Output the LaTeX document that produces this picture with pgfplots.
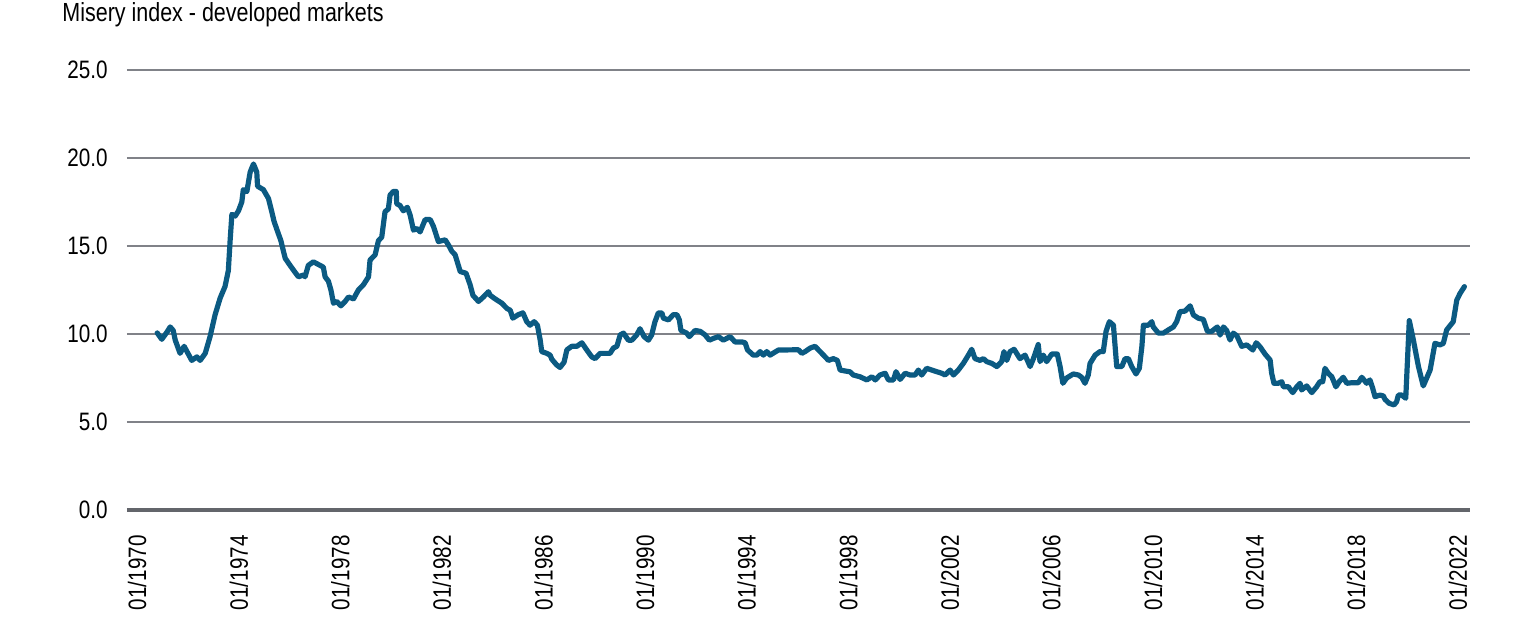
\documentclass[border=0pt]{standalone}
\usepackage{fontspec}
\setmainfont{Liberation Sans}[FakeStretch=0.82]
\usepackage{pgfplots}
\pgfplotsset{compat=1.18}
\definecolor{lineblue}{HTML}{0B5A82}
\definecolor{gridgray}{HTML}{808288}
\definecolor{zerogray}{HTML}{63656B}
\begin{document}
\begin{tikzpicture}
\useasboundingbox (-63.5pt,-55pt) rectangle (702.5pt,255pt);
\node[anchor=base west, inner sep=0pt, font=\fontsize{13.1}{15}\selectfont] at (-32.5pt,244pt) {Misery index - developed markets};
\begin{axis}[
  scale only axis,
  width=671.5pt, height=220pt,
  xmin=1969.6, xmax=2022.48,
  ymin=0, ymax=25,
  axis line style={draw=none},
  ytick={5,10,15,20,25},
  extra y ticks={0},
  extra y tick style={grid style={line width=2pt, color=zerogray}},
  ymajorgrids,
  grid style={line width=1pt, color=gridgray},
  major tick length=0pt,
  /pgf/number format/assume math mode=true,
  yticklabel={\pgfmathprintnumber[fixed,fixed zerofill,precision=1]{\tick}},
  yticklabel style={anchor=east, inner sep=0pt, xshift=-9.5pt, font=\fontsize{12.6}{15}\selectfont},
  xtick={1970,1974,1978,1982,1986,1990,1994,1998,2002,2006,2010,2014,2018,2022},
  xticklabels={01/1970,01/1974,01/1978,01/1982,01/1986,01/1990,01/1994,01/1998,01/2002,01/2006,01/2010,01/2014,01/2018,01/2022},
  xticklabel style={rotate=90, anchor=east, inner sep=0pt, xshift=-12.5pt, font=\fontsize{12.6}{15}\selectfont},
  clip=false,
]
\addplot[color=lineblue, line width=2.6pt, line join=round, line cap=round] coordinates {
(1970.79,10.06)(1970.97,9.7)(1971.17,10.1)(1971.30,10.4)(1971.42,10.2)(1971.50,9.65)(1971.69,8.9)(1971.85,9.3)
(1972.15,8.5)(1972.35,8.7)(1972.48,8.5)(1972.68,8.9)(1972.87,9.85)(1973.07,11.1)(1973.27,12.05)(1973.46,12.7)
(1973.59,13.6)(1973.66,15.3)(1973.73,16.8)(1973.86,16.7)(1973.99,17.0)(1974.12,17.5)(1974.18,18.2)(1974.32,18.1)
(1974.45,19.2)(1974.58,19.66)(1974.71,19.2)(1974.74,18.4)(1974.97,18.2)(1975.17,17.7)(1975.30,16.95)(1975.39,16.4)
(1975.56,15.7)(1975.66,15.3)(1975.76,14.7)(1975.83,14.3)(1976.02,13.9)(1976.22,13.5)(1976.35,13.25)(1976.55,13.35)
(1976.61,13.25)(1976.74,13.9)(1976.94,14.1)(1977.20,13.9)(1977.33,13.8)(1977.40,13.25)(1977.53,13.0)(1977.63,12.5)
(1977.73,11.75)(1977.86,11.85)(1978.02,11.6)(1978.19,11.85)(1978.32,12.1)(1978.52,12.0)(1978.71,12.5)(1978.91,12.8)
(1979.11,13.25)(1979.17,14.2)(1979.37,14.5)(1979.50,15.3)(1979.63,15.5)(1979.76,16.95)(1979.89,17.1)(1979.96,17.9)
(1980.09,18.1)(1980.20,18.1)(1980.22,17.4)(1980.35,17.3)(1980.48,17.0)(1980.64,17.2)(1980.75,16.75)(1980.88,15.9)
(1981.01,16.0)(1981.14,15.8)(1981.34,16.5)(1981.54,16.5)(1981.67,16.1)(1981.86,15.25)(1982.13,15.35)(1982.26,15.05)
(1982.39,14.7)(1982.52,14.5)(1982.72,13.55)(1982.95,13.45)(1983.11,12.8)(1983.22,12.2)(1983.44,11.85)(1983.63,12.1)
(1983.83,12.4)(1983.90,12.2)(1984.09,12.0)(1984.36,11.75)(1984.56,11.45)(1984.69,11.35)(1984.79,10.9)(1985.01,11.1)
(1985.19,11.2)(1985.34,10.7)(1985.47,10.5)(1985.63,10.7)(1985.76,10.5)(1985.87,9.65)(1985.93,9.0)(1986.13,8.9)
(1986.26,8.8)(1986.33,8.56)(1986.52,8.24)(1986.65,8.1)(1986.81,8.4)(1986.92,9.1)(1987.11,9.3)(1987.31,9.3)
(1987.51,9.5)(1987.70,9.1)(1987.90,8.7)(1988.03,8.6)(1988.23,8.9)(1988.62,8.9)(1988.75,9.2)(1988.89,9.3)
(1989.02,9.95)(1989.15,10.05)(1989.34,9.65)(1989.48,9.65)(1989.67,9.95)(1989.80,10.3)(1989.96,9.85)(1990.13,9.65)
(1990.26,9.95)(1990.39,10.7)(1990.52,11.2)(1990.66,11.2)(1990.72,10.9)(1990.92,10.8)(1991.11,11.1)(1991.25,11.1)
(1991.35,10.8)(1991.41,10.2)(1991.64,10.05)(1991.74,9.85)(1991.97,10.2)(1992.17,10.15)(1992.36,9.95)(1992.53,9.65)
(1992.69,9.75)(1992.89,9.85)(1993.08,9.65)(1993.35,9.85)(1993.54,9.55)(1993.81,9.55)(1993.94,9.5)(1994.03,9.1)
(1994.26,8.8)(1994.40,8.8)(1994.53,9.0)(1994.66,8.8)(1994.79,9.0)(1994.92,8.8)(1995.25,9.09)(1995.84,9.1)
(1996.04,9.1)(1996.17,8.9)(1996.30,9.0)(1996.50,9.2)(1996.69,9.3)(1996.89,9.0)(1997.09,8.7)(1997.22,8.5)
(1997.41,8.6)(1997.57,8.5)(1997.68,7.95)(1997.87,7.9)(1998.07,7.85)(1998.20,7.67)(1998.46,7.57)(1998.73,7.39)
(1998.93,7.57)(1999.06,7.39)(1999.25,7.67)(1999.45,7.77)(1999.58,7.39)(1999.78,7.39)(1999.88,7.86)(2000.04,7.42)
(2000.24,7.77)(2000.43,7.67)(2000.63,7.67)(2000.76,7.95)(2000.89,7.67)(2001.09,8.05)(2001.29,7.95)(2001.48,7.86)
(2001.68,7.77)(2001.81,7.67)(2002.01,7.95)(2002.14,7.67)(2002.33,7.95)(2002.53,8.33)(2002.73,8.8)(2002.86,9.13)
(2002.99,8.6)(2003.19,8.5)(2003.32,8.6)(2003.45,8.43)(2003.65,8.33)(2003.85,8.15)(2004.04,8.43)(2004.13,9.0)
(2004.24,8.5)(2004.37,9.0)(2004.53,9.13)(2004.76,8.6)(2004.96,8.8)(2005.16,8.15)(2005.29,8.6)(2005.48,9.4)
(2005.55,8.43)(2005.68,8.8)(2005.81,8.43)(2006.01,8.86)(2006.23,8.86)(2006.34,8.15)(2006.45,7.2)(2006.60,7.5)
(2006.86,7.73)(2007.06,7.67)(2007.19,7.54)(2007.32,7.2)(2007.45,7.67)(2007.52,8.33)(2007.72,8.8)(2007.91,9.0)
(2008.04,9.0)(2008.15,10.15)(2008.28,10.7)(2008.44,10.5)(2008.57,8.15)(2008.77,8.15)(2008.90,8.6)(2009.03,8.6)
(2009.16,8.15)(2009.33,7.73)(2009.46,8.05)(2009.56,9.28)(2009.62,10.5)(2009.81,10.5)(2009.95,10.7)(2010.01,10.4)
(2010.21,10.05)(2010.41,10.05)(2010.60,10.23)(2010.80,10.4)(2010.93,10.7)(2011.06,11.27)(2011.26,11.3)(2011.46,11.6)
(2011.59,11.08)(2011.78,10.9)(2011.98,10.83)(2012.14,10.15)(2012.31,10.15)(2012.53,10.4)(2012.64,9.94)(2012.77,10.4)
(2012.90,10.2)(2013.03,9.66)(2013.16,10.05)(2013.30,9.9)(2013.49,9.3)(2013.69,9.38)(2013.93,9.09)(2014.06,9.5)
(2014.21,9.28)(2014.41,8.86)(2014.61,8.52)(2014.67,7.77)(2014.76,7.2)(2014.93,7.2)(2015.07,7.29)(2015.13,7.0)
(2015.33,7.0)(2015.50,6.67)(2015.66,7.0)(2015.79,7.2)(2015.85,6.82)(2016.05,7.05)(2016.25,6.67)(2016.44,7.0)
(2016.57,7.29)(2016.68,7.29)(2016.77,8.05)(2016.90,7.77)(2017.04,7.57)(2017.20,7.0)(2017.33,7.29)(2017.49,7.54)
(2017.63,7.2)(2017.82,7.23)(2018.08,7.23)(2018.22,7.54)(2018.41,7.2)(2018.54,7.39)(2018.65,6.91)(2018.74,6.44)
(2018.94,6.53)(2019.07,6.48)(2019.13,6.29)(2019.30,6.06)(2019.49,5.97)(2019.59,6.15)(2019.66,6.53)(2019.79,6.53)
(2019.95,6.35)(2020.09,10.76)(2020.25,9.66)(2020.45,8.15)(2020.64,7.05)(2020.91,7.95)(2021.10,9.47)(2021.30,9.38)
(2021.43,9.47)(2021.56,10.23)(2021.82,10.7)(2021.96,11.93)(2022.09,12.31)(2022.26,12.69)
};
\end{axis}
\end{tikzpicture}
\end{document}
